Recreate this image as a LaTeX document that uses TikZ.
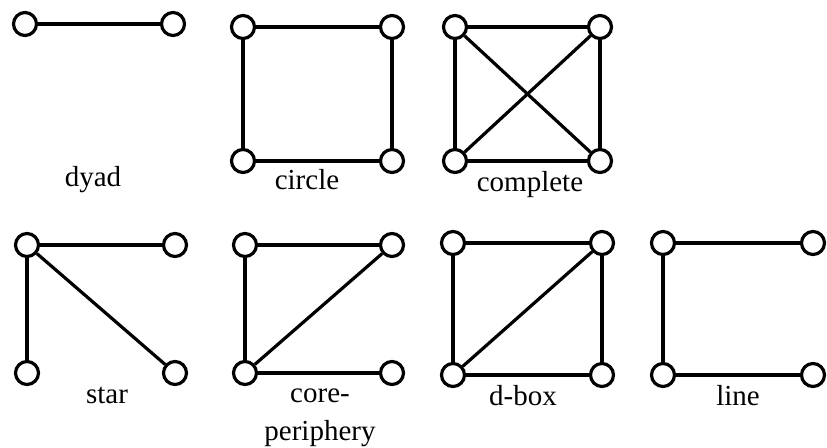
\documentclass[tikz,border=0pt]{standalone}
\usepackage{fontspec}
\setmainfont{Liberation Serif}
\begin{document}
\begin{tikzpicture}[x=1pt,y=-1pt,
  vtx/.style={circle,draw=black,fill=white,line width=3.2pt,minimum size=23pt,inner sep=0pt},
  edge/.style={line width=3.2pt},
  lbl/.style={anchor=base,font=\fontsize{29}{31}\selectfont,inner sep=0pt}]
\useasboundingbox (0,0) rectangle (827,447);
% dyad
\node[vtx] (d1) at (25,24) {};
\node[vtx] (d2) at (173,24) {};
\draw[edge] (d1) -- (d2);
\node[lbl] (dl) at (93,186) {dyad};
% circle
\node[vtx] (c1) at (243,27) {};
\node[vtx] (c2) at (392,27) {};
\node[vtx] (c3) at (243,161) {};
\node[vtx] (c4) at (392,161) {};
\draw[edge] (c1) -- (c2) -- (c4) -- (c3) -- (c1);
\node[lbl] (cl) at (307,189) {circle};
% complete
\node[vtx] (k1) at (455,27) {};
\node[vtx] (k2) at (600,27) {};
\node[vtx] (k3) at (455,161) {};
\node[vtx] (k4) at (600,161) {};
\draw[edge] (k1) -- (k2) -- (k4) -- (k3) -- (k1);
\draw[edge] (k1) -- (k4);
\draw[edge] (k2) -- (k3);
\node[lbl] (kl) at (530,191) {complete};
% star
\node[vtx] (s1) at (27,245) {};
\node[vtx] (s2) at (175,245) {};
\node[vtx] (s3) at (27,373) {};
\node[vtx] (s4) at (175,373) {};
\draw[edge] (s1) -- (s2);
\draw[edge] (s1) -- (s3);
\draw[edge] (s1) -- (s4);
\node[lbl] (sl) at (107,403) {star};
% core-periphery
\node[vtx] (p1) at (245,245) {};
\node[vtx] (p2) at (392,245) {};
\node[vtx] (p3) at (245,373) {};
\node[vtx] (p4) at (392,373) {};
\draw[edge] (p1) -- (p2);
\draw[edge] (p1) -- (p3);
\draw[edge] (p3) -- (p2);
\draw[edge] (p3) -- (p4);
\node[lbl] (pl1) at (320,402) {core-};
\node[lbl] (pl2) at (320,440) {periphery};
% d-box
\node[vtx] (b1) at (453,243) {};
\node[vtx] (b2) at (602,243) {};
\node[vtx] (b3) at (453,375) {};
\node[vtx] (b4) at (602,375) {};
\draw[edge] (b1) -- (b2) -- (b4) -- (b3) -- (b1);
\draw[edge] (b3) -- (b2);
\node[lbl] (bl) at (523,405) {d-box};
% line
\node[vtx] (l1) at (663,243) {};
\node[vtx] (l2) at (813,243) {};
\node[vtx] (l3) at (663,375) {};
\node[vtx] (l4) at (813,375) {};
\draw[edge] (l2) -- (l1) -- (l3) -- (l4);
\node[lbl] (ll) at (738,405) {line};
\end{tikzpicture}
\end{document}
